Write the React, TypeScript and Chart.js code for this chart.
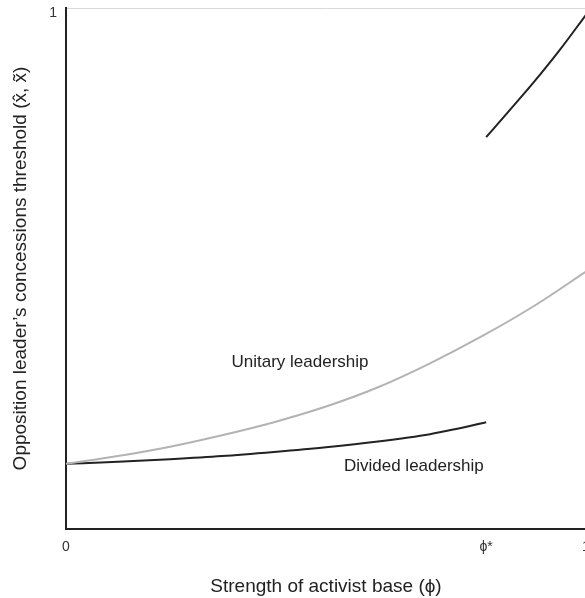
import React, { useEffect, useRef } from "react";
import { Chart, registerables } from "chart.js";

Chart.register(...registerables);

// ---- data ----
const phiStar = 0.808;

const unitaryX = [0, 0.1, 0.2, 0.3, 0.4, 0.5, 0.6, 0.7, 0.8, 0.9, 1.0];
const unitaryY = [0.125, 0.14, 0.158, 0.18, 0.205, 0.235, 0.272, 0.318, 0.37, 0.428, 0.494];

const dividedX = [0, 0.1, 0.2, 0.3, 0.4, 0.5, 0.6, 0.7, 0.75, 0.808];
const dividedY = [0.125, 0.129, 0.134, 0.14, 0.148, 0.157, 0.168, 0.182, 0.192, 0.205];

const upperX = [0.808, 0.85, 0.9, 0.95, 1.0];
const upperY = [0.752, 0.8, 0.858, 0.92, 0.987];

const xTickValues = [0, phiStar, 1];
const xTickLabels = ["0", "\u03D5*", "1"];
const yTickValues = [1];
const yTickLabels = ["1"];

const curveLabels = [
  { text: "Unitary leadership", x: 0.45, y: 0.319 },
  { text: "Divided leadership", x: 0.669, y: 0.121 },
];

const xTitle = "Strength of activist base (\u03D5)";
const yTitle = "Opposition leader\u2019s concessions threshold (x\u0302, x\u0303)";

const FONT = "'Liberation Sans', Arial, Helvetica, sans-serif";

const zip = (xs: number[], ys: number[]) => xs.map((x, i) => ({ x, y: ys[i] }));

const labelPlugin = {
  id: "curveLabels",
  afterDatasetsDraw(chart: any) {
    const { ctx, scales } = chart;
    ctx.save();
    ctx.font = `17px ${FONT}`;
    ctx.fillStyle = "#222";
    ctx.textAlign = "center";
    ctx.textBaseline = "middle";
    for (const l of curveLabels) {
      ctx.fillText(l.text, scales.x.getPixelForValue(l.x), scales.y.getPixelForValue(l.y));
    }
    ctx.restore();
  },
};

export default function App() {
  const ref = useRef<HTMLCanvasElement | null>(null);

  useEffect(() => {
    if (!ref.current) return;
    const line = (xs: number[], ys: number[], color: string) => ({
      data: zip(xs, ys),
      borderColor: color,
      borderWidth: 2,
      pointRadius: 0,
      cubicInterpolationMode: "monotone",
      fill: false,
    });
    const chart = new Chart(ref.current, {
      type: "line",
      data: {
        datasets: [
          line(unitaryX, unitaryY, "#b3b3b3"),
          line(dividedX, dividedY, "#222"),
          line(upperX, upperY, "#222"),
        ],
      },
      options: {
        animation: false,
        responsive: false,
        devicePixelRatio: 1,
        layout: { padding: { left: 0, top: 8, right: 14, bottom: 0 } },
        plugins: {
          legend: { display: false },
          tooltip: { enabled: false },
        },
        scales: {
          x: {
            type: "linear",
            min: 0,
            max: 1,
            grid: { display: false, drawTicks: false },
            border: { display: true, color: "#222", width: 2 },
            afterBuildTicks: (scale: any) => {
              scale.ticks = xTickValues.map((v) => ({ value: v }));
            },
            afterFit: (scale: any) => {
              scale.height = 69;
              scale.paddingLeft = 0;
              scale.paddingRight = 0;
            },
            ticks: {
              autoSkip: false,
              maxRotation: 0,
              padding: 10,
              color: "#333",
              font: { family: FONT, size: 14 },
              callback: (v: any) => {
                const i = xTickValues.findIndex((t) => Math.abs(t - Number(v)) < 1e-9);
                return i >= 0 ? xTickLabels[i] : "";
              },
            },
            title: {
              display: true,
              text: xTitle,
              color: "#222",
              font: { family: FONT, size: 19 },
              padding: { top: 0, bottom: 0 },
            },
          },
          y: {
            type: "linear",
            min: 0,
            max: 1,
            grid: { display: true, drawTicks: false, color: "#d9d9d9", lineWidth: 1 },
            border: { display: true, color: "#222", width: 2 },
            afterBuildTicks: (scale: any) => {
              scale.ticks = yTickValues.map((v) => ({ value: v }));
            },
            afterFit: (scale: any) => {
              scale.width = 66;
              scale.paddingTop = 0;
              scale.paddingBottom = 0;
            },
            ticks: {
              autoSkip: false,
              padding: 9,
              labelOffset: 5,
              color: "#333",
              font: { family: FONT, size: 14 },
              callback: (v: any) => {
                const i = yTickValues.findIndex((t) => Math.abs(t - Number(v)) < 1e-9);
                return i >= 0 ? yTickLabels[i] : "";
              },
            },
            title: {
              display: true,
              text: yTitle,
              color: "#222",
              font: { family: FONT, size: 19 },
              padding: { top: 9, bottom: 0 },
            },
          },
        },
      },
      plugins: [labelPlugin],
    } as any);
    return () => chart.destroy();
  }, []);

  return (
    <div
      style={{
        position: "absolute",
        left: 0,
        top: 0,
        width: 585,
        height: 598,
        overflow: "hidden",
        background: "#fff",
      }}
    >
      <canvas ref={ref} width={600} height={598} style={{ display: "block", width: 600, height: 598 }} />
    </div>
  );
}
